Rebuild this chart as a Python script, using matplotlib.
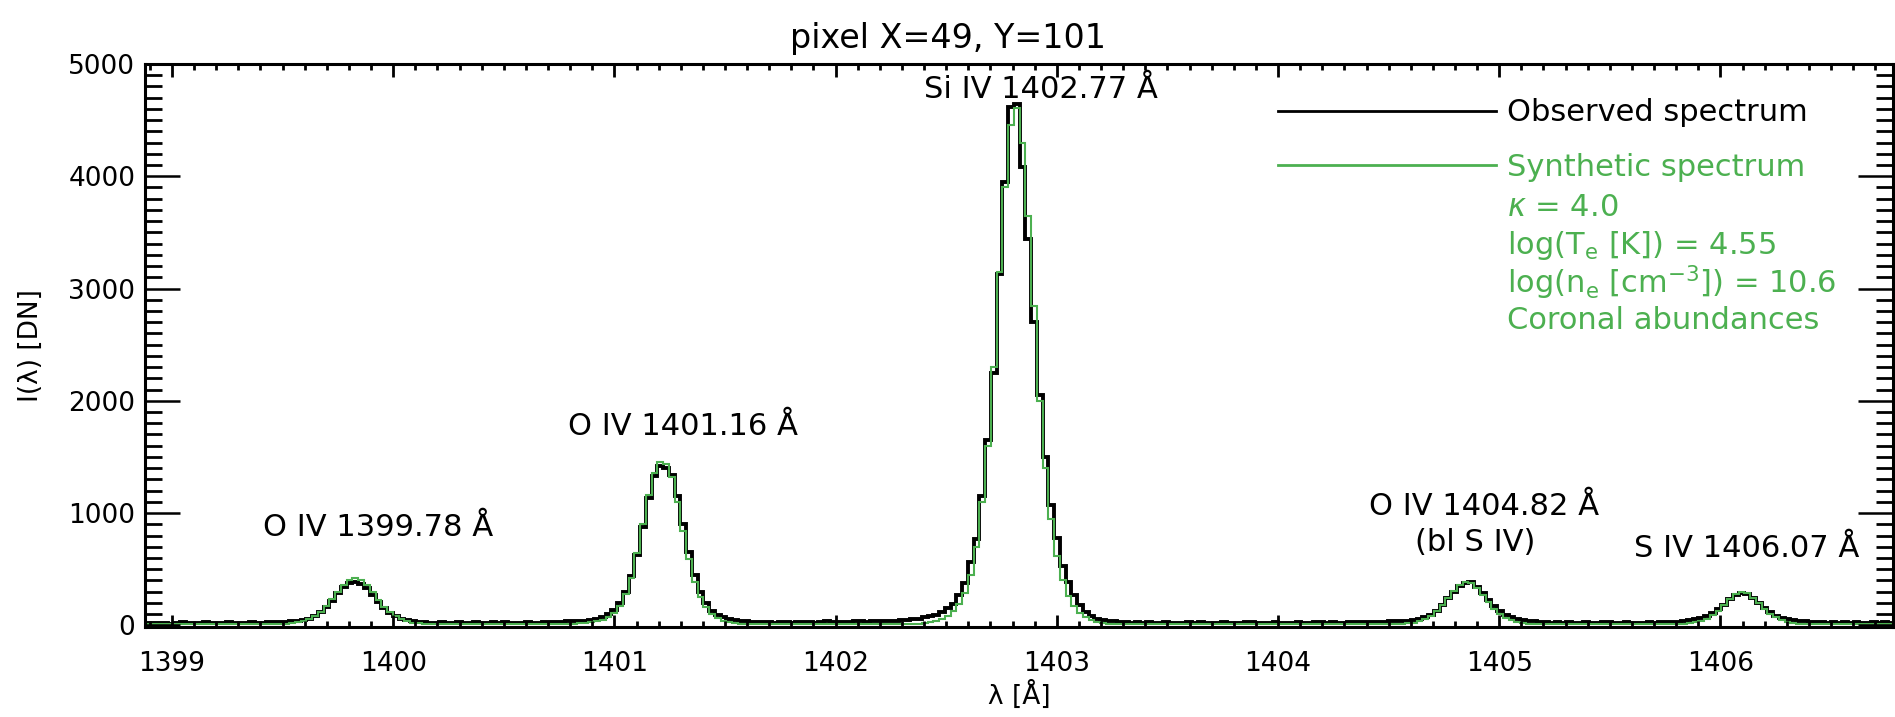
import numpy as np
import matplotlib
matplotlib.use('Agg')
import matplotlib.pyplot as plt
from matplotlib.lines import Line2D
from matplotlib.ticker import MultipleLocator

plt.rcParams['font.family'] = ['DejaVu Sans']
plt.rcParams['mathtext.fontset'] = 'dejavusans'

# detector sampling (first bin edge, bin width in Angstrom)
lam_start = 1398.88
lam_step = 0.026

# observed spectrum [DN], one value per spectral bin (rows of 10 bins)
observed = [
    20, 18, 25, 22, 15, 20, 28, 24, 18, 22,
    26, 20, 17, 23, 30, 25, 19, 22, 27, 24,
    22, 26, 30, 28, 32, 35, 38, 45, 60, 85,
    120, 165, 220, 285, 340, 380, 390, 372, 330, 270,
    205, 150, 110, 80, 60, 45, 38, 30, 28, 25,
    22, 28, 20, 25, 30, 18, 24, 27, 21, 19,
    26, 23, 29, 20, 18, 25, 28, 22, 24, 30,
    26, 32, 28, 35, 38, 40, 42, 50, 60, 75,
    100, 140, 200, 300, 440, 630, 880, 1130, 1330, 1420,
    1400, 1340, 1150, 900, 650, 450, 300, 200, 130, 95,
    70, 55, 45, 40, 35, 32, 30, 28, 33, 25,
    30, 27, 22, 29, 31, 26, 24, 30, 35, 28,
    26, 32, 30, 34, 38, 33, 36, 40, 38, 42,
    42, 45, 50, 55, 60, 70, 82, 95, 115, 150,
    190, 270, 380, 560, 770, 1150, 1650, 2250, 3130, 3950,
    4620, 4640, 4080, 3440, 2700, 2050, 1500, 1070, 780, 530,
    385, 270, 180, 120, 80, 60, 48, 40, 35, 30,
    28, 25, 30, 22, 26, 24, 20, 27, 23, 25,
    21, 26, 22, 28, 24, 19, 23, 27, 25, 20,
    22, 26, 30, 24, 21, 25, 28, 23, 20, 24,
    27, 22, 25, 30, 26, 23, 28, 25, 22, 27,
    30, 26, 28, 32, 30, 33, 35, 34, 36, 38,
    45, 55, 70, 95, 130, 180, 240, 300, 350, 380,
    385, 345, 290, 225, 170, 125, 95, 72, 58, 48,
    40, 35, 30, 28, 25, 27, 23, 26, 22, 25,
    28, 24, 21, 26, 30, 25, 22, 27, 24, 20,
    25, 28, 24, 30, 27, 30, 33, 38, 45, 55,
    65, 85, 110, 145, 185, 230, 270, 290, 280, 245,
    200, 155, 115, 85, 65, 52, 45, 40, 35, 32,
    28, 30, 25, 27, 22, 26, 24, 28, 25, 23,
    27, 24, 26, 22,
]

# synthetic spectrum [DN] on the same bins
synthetic = [
    8, 8, 8, 8, 8, 8, 8, 8, 8, 8,
    8, 8, 8, 8, 8, 8, 8, 8, 9, 9,
    9, 10, 11, 12, 14, 19, 27, 38, 57, 82,
    120, 170, 233, 300, 362, 405, 420, 402, 358, 295,
    228, 166, 116, 79, 54, 36, 25, 18, 13, 11,
    10, 9, 8, 8, 8, 8, 8, 8, 8, 8,
    8, 8, 8, 8, 8, 8, 8, 9, 9, 10,
    10, 11, 12, 14, 16, 19, 23, 28, 36, 48,
    70, 110, 175, 275, 425, 640, 900, 1160, 1360, 1455,
    1440, 1320, 1100, 840, 590, 390, 250, 160, 100, 65,
    42, 27, 19, 14, 11, 10, 9, 9, 8, 8,
    8, 8, 8, 8, 8, 8, 8, 8, 8, 8,
    8, 8, 8, 8, 9, 9, 9, 10, 10, 11,
    11, 12, 13, 14, 16, 20, 28, 40, 58, 85,
    125, 190, 290, 450, 700, 1100, 1600, 2300, 3150, 3900,
    4460, 4610, 4300, 3650, 2840, 2000, 1400, 950, 620, 400,
    260, 170, 110, 72, 48, 32, 22, 15, 12, 10,
    9, 9, 8, 8, 8, 8, 8, 8, 8, 8,
    8, 8, 8, 8, 8, 8, 8, 8, 8, 8,
    8, 8, 8, 8, 8, 8, 8, 8, 8, 8,
    8, 8, 8, 8, 8, 8, 8, 8, 8, 8,
    8, 8, 8, 9, 9, 10, 10, 11, 12, 17,
    25, 37, 56, 85, 125, 180, 245, 310, 360, 385,
    375, 330, 270, 205, 148, 100, 68, 45, 30, 20,
    14, 11, 10, 9, 8, 8, 8, 8, 8, 8,
    8, 8, 8, 8, 8, 8, 8, 8, 8, 8,
    8, 8, 9, 9, 10, 10, 11, 12, 18, 27,
    40, 60, 90, 130, 180, 235, 280, 300, 285, 245,
    195, 145, 102, 70, 47, 32, 22, 15, 11, 9,
    9, 8, 8, 8, 8, 8, 8, 8, 8, 8,
    8, 8, 8, 8,
]

# line identifications and where their labels sit (Angstrom, DN)
line_names = ['O IV 1399.78 Å', 'O IV 1401.16 Å', 'Si IV 1402.77 Å',
              'O IV 1404.82 Å', '(bl S IV)', 'S IV 1406.07 Å']
line_x = [1399.93, 1401.31, 1402.93, 1404.93, 1404.89, 1406.12]
line_y = [870, 1770, 4770, 1060, 740, 680]

fit_info = [r'$\kappa$ = 4.0',
            r'log(T$_{\rm e}$ [K]) = 4.55',
            r'log(n$_{\rm e}$ [cm$^{-3}$]) = 10.6',
            'Coronal abundances']

green = '#4cb050'

fig = plt.figure(figsize=(18.95, 7.17), dpi=100)
ax = fig.add_axes([145/1895, 1 - 627/717, 1748/1895, 563/717])

edges = lam_start + lam_step * np.arange(len(observed) + 1)
ax.stairs(observed, edges, baseline=None, color='black', lw=2.8)
ax.stairs(synthetic, edges, baseline=None, color=green, lw=1.5)

ax.set_xlim(1398.878, 1406.78)
ax.set_ylim(-15, 5000)

ax.xaxis.set_major_locator(MultipleLocator(1))
ax.xaxis.set_minor_locator(MultipleLocator(0.1))
ax.yaxis.set_major_locator(MultipleLocator(1000))
ax.yaxis.set_minor_locator(MultipleLocator(100))
ax.tick_params(axis='x', which='major', direction='in', length=9, width=2,
               top=True, labelsize=19, pad=17)
ax.tick_params(axis='x', which='minor', direction='in', length=4.5, width=2, top=True)
ax.tick_params(axis='y', which='major', direction='in', length=25, width=1.8,
               right=True, labelsize=19, pad=7)
ax.tick_params(axis='y', which='minor', direction='in', length=12.5, width=2, right=True)
for s in ax.spines.values():
    s.set_linewidth(2.2)

ax.set_xlabel('λ [Å]', fontsize=19)
ax.xaxis.set_label_coords(0.5, -0.095)
ax.set_ylabel('I(λ) [DN]', fontsize=19)
ax.yaxis.set_label_coords(-0.058, 0.5)

fig.text(0.5, 1 - 48/717, 'pixel X=49, Y=101', ha='center', va='baseline', fontsize=24)

for name, x, y in zip(line_names, line_x, line_y):
    ax.text(x, y, name, ha='center', va='center', fontsize=22)

handles = [Line2D([], [], color='black', lw=2), Line2D([], [], color=green, lw=2)]
ax.legend(handles, ['Observed spectrum', 'Synthetic spectrum'], loc='upper left',
          bbox_to_anchor=(0.648, 0.939), frameon=False, fontsize=22,
          handlelength=7.15, handletextpad=0.36, labelspacing=0.84,
          borderaxespad=0, borderpad=0, labelcolor='linecolor')

for k, txt in enumerate(fit_info):
    ax.text(0.779, 0.745 - 0.067 * k, txt, color=green, fontsize=22,
            ha='left', va='center', transform=ax.transAxes)

fig.savefig('out.png', dpi=100)
